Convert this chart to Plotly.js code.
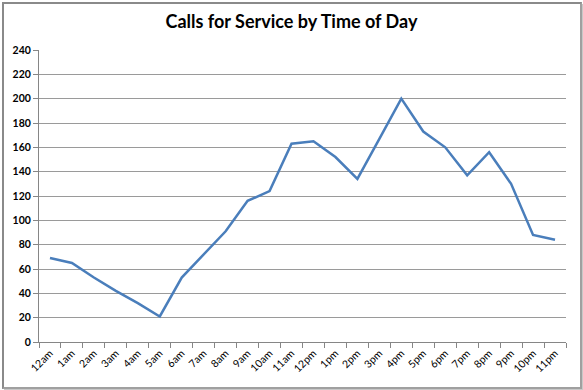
<!DOCTYPE html>
<html>
<head>
<meta charset="utf-8">
<script src="https://cdn.plot.ly/plotly-3.0.1.min.js"></script>
<style>
html,body{margin:0;padding:0;background:#fff;}
#wrap{position:relative;width:583px;height:390px;}
#chart{width:583px;height:390px;}
#frame{position:absolute;left:2px;top:2px;width:576px;height:383px;border:2px solid #8a8a8a;border-right-color:#a0a0a0;border-bottom-color:#a0a0a0;pointer-events:none;box-shadow:2px 2px 0 #c8c8c8;}
</style>
</head>
<body>
<div id="wrap"><div id="chart"></div><div id="frame"></div></div>
<script>
var hours = ["12am","1am","2am","3am","4am","5am","6am","7am","8am","9am","10am","11am",
             "12pm","1pm","2pm","3pm","4pm","5pm","6pm","7pm","8pm","9pm","10pm","11pm"];
var calls = [69,65,53,42,32,21,53,72,91,116,124,163,165,152,134,167,200,173,160,137,156,130,88,84];
var yTicks = [0,20,40,60,80,100,120,140,160,180,200,220,240];

var trace = {
  x: hours, y: calls, type: "scatter", mode: "lines",
  line: {color: "#4a7ebb", width: 2.5},
  hoverinfo: "x+y"
};
var layout = {
  width: 583, height: 390,
  margin: {l: 39, r: 17, t: 50, b: 48},
  paper_bgcolor: "#fff", plot_bgcolor: "#fff",
  showlegend: false,
  title: {text: "<b>Calls for Service by Time of Day</b>", x: 0.5, xanchor: "center", y: 0.945, yanchor: "middle",
          font: {family: "Lato, 'Open Sans', sans-serif", size: 18, color: "#000"}},
  xaxis: {
    type: "category", range: [-0.5, 23.5], tickangle: -45,
    tickson: "boundaries", ticks: "outside", ticklen: 5, tickcolor: "#868686",
    showline: true, linecolor: "#868686", linewidth: 1, showgrid: false,
    tickfont: {family: "Lato, 'Open Sans', sans-serif", size: 10.5, color: "#000"}, automargin: false
  },
  yaxis: {
    range: [0, 240], tickvals: yTicks, ticktext: yTicks.map(function(v){return "<b>" + v + "</b>";}),
    ticks: "outside", ticklen: 5, tickcolor: "#868686",
    showline: true, linecolor: "#868686", linewidth: 1,
    showgrid: true, gridcolor: "#9a9a9a", gridwidth: 1, zeroline: false,
    tickfont: {family: "Lato, 'Open Sans', sans-serif", size: 10.5, color: "#000"}, automargin: false
  }
};
Plotly.newPlot("chart", [trace], layout, {displayModeBar: false, staticPlot: true});
</script>
</body>
</html>
